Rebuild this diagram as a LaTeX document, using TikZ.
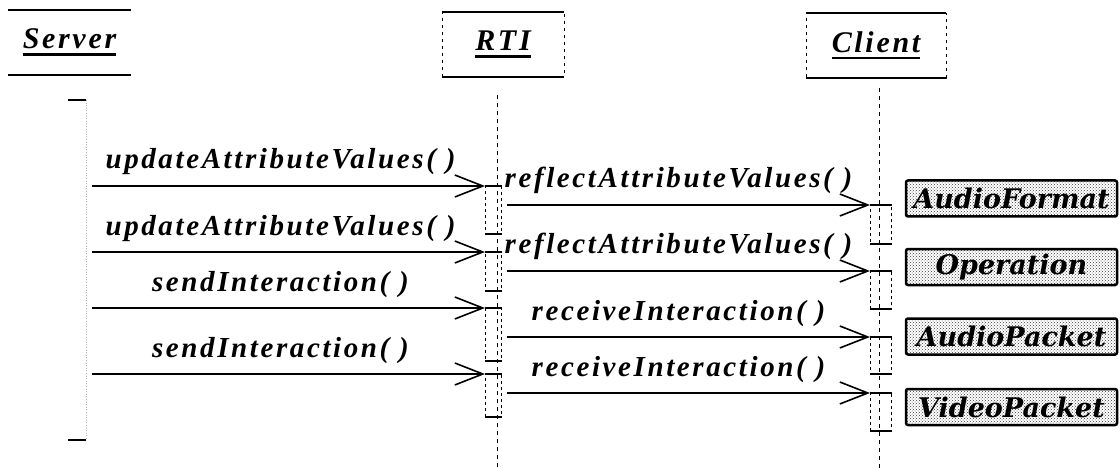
\documentclass[tikz,border=0pt]{standalone}
\usepackage{fontspec}
\setmainfont{Liberation Serif}
\newfontfamily\msgfont[LetterSpace=9]{Liberation Serif}
\newfontfamily\tagfont{DejaVu Serif}
\usetikzlibrary{arrows.meta,patterns}
\newcommand\ulin[1]{\setbox0\hbox{#1}\rlap{\usebox0}\rule[-7pt]{\wd0}{2.5pt}}
\tikzset{
	obj/.style={rectangle, draw, dash pattern=on 3pt off 4pt, line width=0.6pt, inner sep=0pt,
		font=\msgfont\fontsize{30}{32}\selectfont\bfseries\itshape},
	act/.style={rectangle, draw, dash pattern=on 3pt off 3pt, line width=0.6pt, inner sep=0pt},
	edge/.style={solid, line width=2pt},
	life/.style={dash pattern=on 4pt off 4pt, line width=0.7pt},
	msg/.style={line width=1.6pt, -{Straight Barb[length=28pt,width=22pt,line width=1.6pt]}},
	lbl/.style={anchor=base, yshift=17pt, inner sep=0pt,
		font=\msgfont\fontsize{29}{31}\selectfont\bfseries\itshape},
	tag/.style={rectangle, draw, line width=2.5pt, rounded corners=2pt, pattern=crosshatch dots,
		pattern color=black!75, minimum width=211pt, minimum height=36pt, inner sep=0pt,
		font=\tagfont\fontsize{27}{29}\selectfont\bfseries\itshape}
}
\begin{document}
\begin{tikzpicture}[x=1pt,y=-1pt]
	\useasboundingbox (0,0) rectangle (1120,468);
	% objects
	\node (srv) at ( 69.5, 42.5)	[obj, draw=none, minimum width=123pt, minimum height=65pt]	{\ulin{Server}};
	\node (rti) at (503, 44.5)	[obj, minimum width=122pt, minimum height=65pt]	{\ulin{RTI}};
	\node (cli) at (876, 45.5)	[obj, minimum width=140pt, minimum height=65pt]	{\ulin{Client}};
	\foreach \n in {srv,rti,cli}
		\draw[edge] (\n.north west) -- (\n.north east) (\n.south west) -- (\n.south east);
	% lifelines
	\coordinate (srvA) at (86,100);
	\coordinate (srvB) at (86,440);
	\coordinate (rtiA) at (497,95);
	\coordinate (rtiB) at (497,468);
	\coordinate (cliA) at (879,88);
	\coordinate (cliB) at (879,468);
	\draw[dotted, gray!60, line width=0.6pt] (srvA) -- (srvB);
	\draw[line width=1.5pt] (srvA) -- ++(-18,0) (srvB) -- ++(-18,0);
	\draw[life] (rtiA) -- (rtiB);
	\draw[life] (cliA) -- (cliB);
	% activations
	\foreach \i/\t/\b in {1/186/233, 2/252/290, 3/308/360, 4/374/416}
		\node[act, minimum width=16pt, minimum height={\b-\t}, anchor=north west] (r\i) at (485,\t) {};
	\foreach \i/\t/\b in {1/205/243, 2/271/308, 3/337/373, 4/393/430}
		\node[act, minimum width=21pt, minimum height={\b-\t}, anchor=north west] (c\i) at (870,\t) {};
	\foreach \n in {r1,r2,r3,r4,c1,c2,c3,c4}
		\draw[edge] (\n.north west) -- (\n.north east) (\n.south west) -- (\n.south east);
	% messages
	\foreach \i/\y/\txt in {1/186/updateAttributeValues( ), 2/252/updateAttributeValues( ),
			3/308/sendInteraction( ), 4/374/sendInteraction( )} {
		\coordinate (s\i) at (92,\y);
		\draw[msg] (s\i) -- node[lbl, xshift=-8pt] {\txt} (r\i.north west);
	}
	\foreach \i/\y/\txt in {1/205/reflectAttributeValues( ), 2/271/reflectAttributeValues( ),
			3/337/receiveInteraction( ), 4/393/receiveInteraction( )} {
		\coordinate (o\i) at (507,\y);
		\draw[msg] (o\i) -- node[lbl, xshift=-10pt] {\txt} (c\i.north west);
	}
	% classes
	\node (fmt) at (1011.5, 198.5)	[tag]	{AudioFormat};
	\node (ops) at (1011.5, 267)	[tag]	{Operation};
	\node (aud) at (1011.5, 336.5)	[tag]	{AudioPacket};
	\node (vid) at (1011.5, 407)	[tag]	{VideoPacket};
\end{tikzpicture}
\end{document}
